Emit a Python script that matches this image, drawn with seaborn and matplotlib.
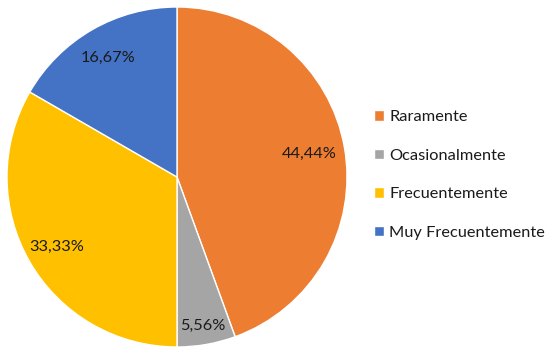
import numpy as np
import matplotlib
matplotlib.use("Agg")
import matplotlib.pyplot as plt
import seaborn as sns

# Data
categories = ["Raramente", "Ocasionalmente", "Frecuentemente", "Muy Frecuentemente"]
counts = [8, 1, 6, 3]
colors = ["#ED7D31", "#A5A5A5", "#FFC000", "#4472C4"]
# radial position of each label as a fraction of the radius
label_dist = [0.79, 0.89, 0.82, 0.81]

sns.set_theme(style="white")
plt.rcParams["font.family"] = ["Lato", "DejaVu Sans"]

W, H = 554, 354
fig = plt.figure(figsize=(W / 100, H / 100), dpi=100)
ax = fig.add_axes([7 / W, 1 - 347 / H, 340 / W, 340 / H])

palette = sns.color_palette(colors)
total = sum(counts)
wedges, _ = ax.pie(
    counts, colors=palette, startangle=90, counterclock=False,
    wedgeprops={"edgecolor": "white", "linewidth": 1},
)

# percentage labels, Excel style with comma decimal
for w, c, d in zip(wedges, counts, label_dist):
    mid = np.deg2rad((w.theta1 + w.theta2) / 2)
    pct = f"{100 * c / total:.2f}".replace(".", ",") + "%"
    ax.text(d * np.cos(mid), d * np.sin(mid), pct, ha="center", va="center",
            fontsize=11.8, color="#1a1a1a")

ax.set_xlim(-1, 1)
ax.set_ylim(-1, 1)
ax.set_aspect("equal")
ax.axis("off")

leg = fig.legend(wedges, categories, loc="center left",
                 bbox_to_anchor=(359 / W, 1 - 175 / H), frameon=False,
                 fontsize=11.8, handlelength=0.6, handleheight=0.6,
                 handletextpad=0.35, labelspacing=1.5)
for t in leg.get_texts():
    t.set_color("#1a1a1a")

fig.savefig("out.png", dpi=100, facecolor="white")
